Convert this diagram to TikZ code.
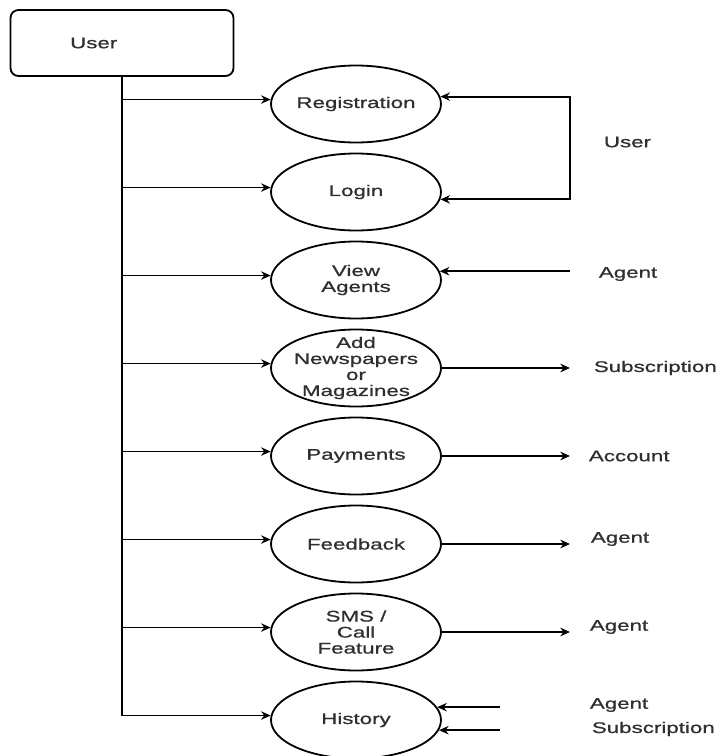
\documentclass[tikz,border=0pt]{standalone}
\usepackage{fontspec}
\newfontfamily\dfdfont{Liberation Sans}[FakeStretch=1.45,FakeBold=0.8]
\usetikzlibrary{shapes,positioning,arrows.meta}
\definecolor{inkgray}{rgb}{0.18,0.18,0.2}

\begin{document}
\begin{tikzpicture}
  [x=0.5pt,y=-0.5pt,line width=0.9pt,
   font=\dfdfont\fontsize{7.7}{8}\selectfont,text=inkgray,
   >={Stealth[length=4.8pt,width=4.2pt]},
   procN/.style={ellipse,draw,minimum width=85pt,minimum height=38.5pt,
                 inner xsep=-20pt,inner ysep=-12pt,align=center},
   extN/.style={anchor=west,inner sep=0pt},
   node distance=4.6pt]

  \useasboundingbox (0,0) rectangle (719,756);

  \node[draw,rounded corners=4pt,minimum width=111.5pt,minimum height=33pt,
        label={[anchor=west,xshift=26.5pt]west:User}] (user) at (122,43) {};

  \node[procN] (reg) at (356,104) {Registration};
  \node[procN] (login) [below=of reg] {Login};
  \node[procN] (view) [below=of login] {View\\Agents};
  \node[procN] (add) [below=of view] {Add\\Newspapers\\or\\Magazines};
  \node[procN] (pay) [below=of add] {Payments};
  \node[procN] (feed) [below=of pay] {Feedback};
  \node[procN] (sms) [below=of feed] {SMS /\\Call\\Feature};
  \node[procN] (hist) [below=of sms] {History};

  \node[extN] (uLbl) at (603,142) {User};
  \node[extN] (aView) at (598,274) {Agent};
  \node[extN] (sAdd) at (593,368) {Subscription};
  \node[extN] (acct) at (588,456) {Account};
  \node[extN] (aFeed) at (590,539) {Agent};
  \node[extN] (aSms) at (589,627) {Agent};
  \node[extN] (aHist) at (589,705) {Agent};
  \node[extN] (sHist) at (591,729) {Subscription};

  \coordinate (rx) at (570,0);
  \coordinate (hx) at (500,0);

  % user trunk
  \draw[->] (user.south) |- (hist.177);
  \draw[->] (user.south |- reg.177) -- (reg.177);
  \draw[->] (user.south |- login.177) -- (login.177);
  \draw[->] (user.south |- view.177) -- (view.177);
  \draw[->] (user.south |- add.177) -- (add.177);
  \draw[->] (user.south |- pay.177) -- (pay.177);
  \draw[->] (user.south |- feed.177) -- (feed.177);
  \draw[->] (user.south |- sms.177) -- (sms.177);

  % right side
  \draw[<->] (reg.5) -- (reg.5 -| rx) -- (login.-5 -| rx) -- (login.-5);
  \draw[<-] (view.6) -- (view.6 -| rx);
  \draw[->] (add) -- (add -| rx);
  \draw[->] (pay) -- (pay -| rx);
  \draw[->] (feed) -- (feed -| rx);
  \draw[->] (sms) -- (sms -| rx);
  \draw[<-] (hist.9) -- (hist.9 -| hx);
  \draw[<-] (hist.-7) -- (hist.-7 -| hx);

\end{tikzpicture}
\end{document}
